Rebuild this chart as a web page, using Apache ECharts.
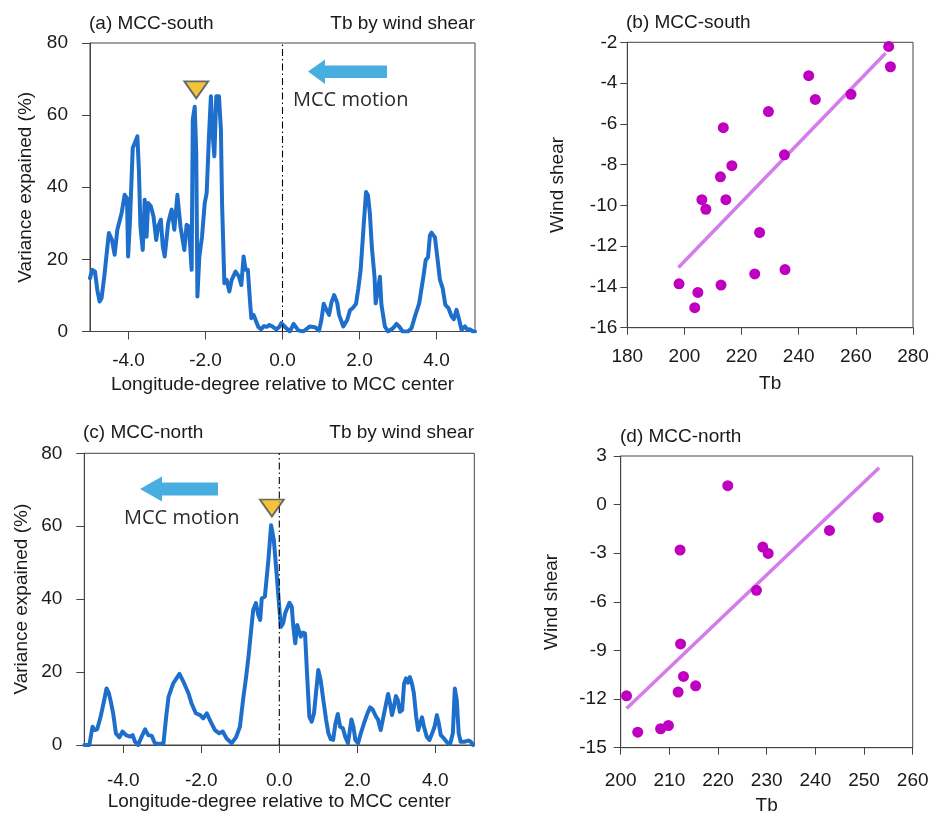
<!DOCTYPE html>
<html>
<head>
<meta charset="utf-8">
<title>Tb by wind shear</title>
<script src="https://cdn.jsdelivr.net/npm/echarts@6/dist/echarts.min.js"></script>
<style>
  html, body { margin: 0; padding: 0; background: #fff; }
  #chart { width: 931px; height: 814px; }
</style>
</head>
<body>
<div id="chart"></div>
<script>
// Variance explained along longitude, MCC-south
const southLon = [-5.00,-4.94,-4.87,-4.81,-4.75,-4.70,-4.63,-4.51,-4.43,-4.36,-4.29,-4.18,-4.10,-4.04,-4.01,-3.96,-3.89,-3.77,-3.73,-3.69,-3.63,-3.58,-3.53,-3.49,-3.42,-3.35,-3.28,-3.23,-3.16,-3.11,-3.06,-2.97,-2.88,-2.81,-2.73,-2.65,-2.55,-2.49,-2.43,-2.36,-2.33,-2.28,-2.24,-2.21,-2.16,-2.09,-2.02,-1.97,-1.91,-1.86,-1.81,-1.77,-1.72,-1.65,-1.60,-1.57,-1.51,-1.45,-1.38,-1.32,-1.22,-1.13,-1.07,-1.01,-0.96,-0.90,-0.84,-0.81,-0.75,-0.70,-0.63,-0.56,-0.48,-0.41,-0.34,-0.25,-0.16,-0.08,-0.03,0.00,0.10,0.19,0.29,0.41,0.54,0.71,0.84,0.95,1.01,1.07,1.14,1.21,1.27,1.34,1.42,1.47,1.58,1.68,1.75,1.84,1.91,1.97,2.03,2.10,2.17,2.22,2.27,2.32,2.39,2.42,2.48,2.53,2.57,2.66,2.74,2.87,2.96,3.03,3.12,3.26,3.35,3.44,3.55,3.66,3.72,3.78,3.83,3.87,3.96,4.02,4.09,4.16,4.23,4.31,4.39,4.45,4.52,4.59,4.65,4.74,4.80,4.87,4.95,5.00];
const southVar = [14.8,17.1,16.6,11.5,8.3,9.2,15.2,27.3,25.4,21.3,28.2,32.8,37.9,37.0,20.8,31.0,50.9,54.1,44.9,29.1,22.6,36.5,26.3,35.6,34.7,31.9,25.4,29.1,31.0,23.6,20.8,30.0,33.8,28.2,37.9,29.1,22.6,29.6,29.1,17.1,58.8,62.3,49.5,9.7,20.8,26.3,35.6,38.4,54.1,65.2,54.1,48.6,65.2,65.2,56.0,35.6,13.4,14.3,11.1,14.3,16.6,15.2,12.9,20.8,17.1,17.1,7.8,3.7,4.6,4.1,1.3,0.6,1.5,1.3,1.8,1.3,0.6,1.3,2.3,2.1,0.9,0.0,2.1,0.3,0.0,1.4,1.2,0.3,3.2,7.7,6.0,4.6,8.0,10.1,8.0,4.6,1.4,3.2,5.8,6.7,7.7,12.0,17.1,28.1,38.7,37.8,32.7,23.5,15.2,7.8,11.5,15.2,7.4,1.4,0.0,0.9,2.1,1.4,0.0,0.0,0.9,4.2,7.8,15.2,19.8,20.6,26.7,27.4,26.1,20.7,14.3,12.0,7.4,6.5,4.2,3.4,6.0,3.2,0.5,1.4,0.5,0.6,0.0,0.0];

// Variance explained along longitude, MCC-north
const northLon = [-5.00,-4.87,-4.79,-4.73,-4.67,-4.58,-4.49,-4.43,-4.37,-4.32,-4.26,-4.19,-4.10,-4.02,-3.93,-3.83,-3.76,-3.70,-3.62,-3.53,-3.44,-3.36,-3.27,-3.19,-3.08,-2.97,-2.90,-2.84,-2.72,-2.56,-2.46,-2.33,-2.25,-2.14,-2.03,-1.95,-1.86,-1.76,-1.65,-1.54,-1.45,-1.35,-1.22,-1.11,-1.01,-0.92,-0.85,-0.79,-0.73,-0.67,-0.60,-0.54,-0.49,-0.45,-0.37,-0.28,-0.21,-0.14,-0.07,0.04,0.10,0.15,0.26,0.32,0.36,0.41,0.46,0.51,0.55,0.60,0.66,0.72,0.77,0.83,0.89,0.94,1.00,1.06,1.13,1.20,1.26,1.32,1.38,1.44,1.50,1.56,1.63,1.69,1.76,1.85,1.90,1.95,2.02,2.09,2.17,2.26,2.33,2.39,2.48,2.53,2.60,2.67,2.74,2.79,2.84,2.89,2.94,2.99,3.04,3.09,3.15,3.20,3.25,3.30,3.35,3.40,3.45,3.51,3.56,3.61,3.66,3.71,3.78,3.85,3.92,3.98,4.04,4.09,4.14,4.22,4.31,4.38,4.45,4.50,4.55,4.60,4.65,4.74,4.85,4.91,4.97];
const northVar = [0.0,0.0,5.0,4.1,4.3,7.8,12.3,15.5,14.2,11.9,8.7,3.2,2.1,3.7,2.7,2.3,2.7,0.9,0.0,2.3,4.3,2.7,2.5,0.5,0.3,0.5,7.8,13.2,16.9,19.5,17.4,14.2,11.4,8.7,8.2,7.3,8.7,6.4,4.1,3.2,3.7,1.8,0.5,2.1,5.0,13.2,18.7,24.2,30.6,37.0,38.9,35.7,34.3,40.2,40.7,50.7,60.3,56.2,47.1,32.4,33.4,36.1,39.0,37.9,32.4,27.9,32.9,33.4,29.7,30.8,30.6,17.8,7.8,6.4,8.7,14.2,20.6,17.8,12.3,6.9,3.2,1.6,1.4,5.9,8.5,5.0,4.6,2.3,0.5,7.0,5.0,1.4,0.5,3.2,5.9,8.7,10.3,9.8,7.8,7.0,4.1,7.8,11.4,14.0,11.4,8.2,10.5,13.4,12.3,9.1,9.6,16.9,18.3,17.1,18.6,16.9,14.2,7.8,4.1,4.6,7.6,5.0,2.3,1.4,3.2,5.0,8.2,5.9,2.7,1.8,0.6,0.3,3.2,15.5,12.3,3.2,0.9,0.9,1.2,0.9,0.0];

// Peak markers (longitude, variance)
const southPeak = [-2.24, 67];
const northPeak = [-0.19, 65];

// Tb vs wind shear samples
const southTb    = [271.5,272.1,243.5,245.8,258.3,229.4,213.6,235.0,216.6,212.6,206.1,214.5,207.5,226.3,198.1,212.8,204.7,224.6,235.2,203.6];
const southShear = [-2.2,-3.2,-3.64,-4.8,-4.55,-5.4,-6.19,-7.52,-8.05,-8.6,-9.72,-9.72,-10.19,-11.33,-13.85,-13.91,-14.27,-13.36,-13.15,-15.02];
const northTb    = [222.0,212.2,229.2,230.3,242.9,252.9,227.9,212.3,212.9,215.4,211.8,201.2,203.5,208.2,209.8];
const northShear = [1.17,-2.8,-2.62,-3.01,-1.59,-0.79,-5.29,-8.6,-10.6,-11.18,-11.57,-11.8,-14.04,-13.83,-13.63];

// Fitted lines (end points)
const southFitTb = [197.9, 270.4];
const southFitShear = [-13.05, -2.54];
const northFitTb = [201.2, 253.1];
const northFitShear = [-12.58, 2.28];

// Tick labels
const lonTicks = [-4, -2, 0, 2, 4];

const FONT = '"Liberation Sans", Arial, Helvetica, sans-serif';
const INK = '#1a1a1a';
const AXIS = '#444';
const LINE_BLUE = '#1E6FCB';
const DOT = '#C000C0';
const FIT = '#D47CEA';
const ARROW = '#48AEE0';

const zip = (a, b) => a.map((v, i) => [v, b[i]]);

function baseAxis(extra) {
  return Object.assign({
    type: 'value',
    axisLine: { show: true, onZero: false, lineStyle: { color: AXIS, width: 1 } },
    axisTick: { show: true, inside: false, length: 8, lineStyle: { color: AXIS, width: 1 } },
    splitLine: { show: false },
    axisLabel: { color: INK, fontSize: 19, fontFamily: FONT },
    nameTextStyle: { color: INK, fontSize: 19, fontFamily: FONT },
    nameLocation: 'middle'
  }, extra);
}

function lonAxis(gridIndex, labelMargin, nameGap) {
  return baseAxis({
    gridIndex, min: -5, max: 5,
    axisTick: { show: true, length: 8, customValues: lonTicks, lineStyle: { color: AXIS, width: 1 } },
    axisLabel: { color: INK, fontSize: 19, fontFamily: FONT, margin: labelMargin,
                 customValues: lonTicks, formatter: v => v.toFixed(1) },
    name: 'Longitude-degree relative to MCC center', nameGap
  });
}

const gridStyle = { show: true, borderColor: AXIS, borderWidth: 1, backgroundColor: 'transparent', outerBoundsMode: 'none', containLabel: false };

const peakStyle = { color: '#F3B409', borderColor: '#3D4C5C', borderWidth: 1.8 };
const motionFont = { fill: '#2b2b2b', fontSize: 20, fontFamily: '"Open Sans", "Noto Sans", sans-serif' };

const option = {
  animation: false,
  backgroundColor: '#fff',
  textStyle: { fontFamily: FONT },
  title: [
    { text: '(a) MCC-south', left: 89, top: 14 },
    { text: 'Tb by wind shear', right: 456, top: 14 },
    { text: '(b) MCC-south', left: 626, top: 13 },
    { text: '(c) MCC-north', left: 83, top: 423 },
    { text: 'Tb by wind shear', right: 457, top: 423 },
    { text: '(d) MCC-north', left: 620, top: 427 }
  ].map(t => Object.assign({ padding: 0, textStyle: { color: INK, fontSize: 19, fontWeight: 'normal', fontFamily: FONT } }, t)),
  grid: [
    Object.assign({ left: 90, top: 43, width: 385, height: 288.5 }, gridStyle),
    Object.assign({ left: 627.3, top: 42.3, width: 285.7, height: 285.4 }, gridStyle),
    Object.assign({ left: 84.3, top: 453.3, width: 390, height: 291.7 }, gridStyle),
    Object.assign({ left: 620.7, top: 456, width: 292, height: 291.7 }, gridStyle)
  ],
  xAxis: [
    lonAxis(0, 20, 44),
    baseAxis({ gridIndex: 1, min: 180, max: 280, interval: 20,
      axisTick: { show: true, length: 7, lineStyle: { color: AXIS } },
      axisLabel: { color: INK, fontSize: 19, fontFamily: FONT, margin: 20 },
      name: 'Tb', nameGap: 47 }),
    lonAxis(2, 26, 47),
    baseAxis({ gridIndex: 3, min: 200, max: 260, interval: 10,
      axisTick: { show: true, length: 7, lineStyle: { color: AXIS } },
      axisLabel: { color: INK, fontSize: 19, fontFamily: FONT, margin: 24 },
      name: 'Tb', nameGap: 49 })
  ],
  yAxis: [
    baseAxis({ gridIndex: 0, min: 0, max: 80, interval: 20,
      axisLabel: { color: INK, fontSize: 19, fontFamily: FONT, margin: 22 },
      name: 'Variance expained (%)', nameGap: 55 }),
    baseAxis({ gridIndex: 1, min: -16, max: -2, interval: 2,
      axisTick: { show: true, length: 7, lineStyle: { color: AXIS } },
      axisLabel: { color: INK, fontSize: 19, fontFamily: FONT, margin: 10 },
      name: 'Wind shear', nameGap: 60 }),
    baseAxis({ gridIndex: 2, min: 0, max: 80, interval: 20,
      axisLabel: { color: INK, fontSize: 19, fontFamily: FONT, margin: 22 },
      name: 'Variance expained (%)', nameGap: 53 }),
    baseAxis({ gridIndex: 3, min: -15, max: 3, interval: 3,
      axisTick: { show: true, length: 7, lineStyle: { color: AXIS } },
      axisLabel: { color: INK, fontSize: 19, fontFamily: FONT, margin: 14 },
      name: 'Wind shear', nameGap: 59 })
  ],
  series: [
    { type: 'line', xAxisIndex: 0, yAxisIndex: 0, data: zip(southLon, southVar),
      showSymbol: false, symbol: 'none', lineStyle: { color: LINE_BLUE, width: 4, join: 'round', cap: 'round' }, z: 2 },
    { type: 'line', xAxisIndex: 0, yAxisIndex: 0, data: [[0, 0], [0, 80]], symbol: 'none',
      lineStyle: { color: '#000', width: 1.1, type: [7, 3, 1.5, 3] }, z: 3 },
    { type: 'scatter', xAxisIndex: 0, yAxisIndex: 0, data: [southPeak], symbol: 'triangle', symbolRotate: 180,
      symbolSize: [24, 17], itemStyle: peakStyle, z: 4 },

    { type: 'line', xAxisIndex: 1, yAxisIndex: 1, data: zip(southFitTb, southFitShear), symbol: 'none',
      lineStyle: { color: FIT, width: 3.5 }, z: 2 },
    { type: 'scatter', xAxisIndex: 1, yAxisIndex: 1, data: zip(southTb, southShear),
      symbolSize: 11, itemStyle: { color: DOT, opacity: 1 }, z: 3 },

    { type: 'line', xAxisIndex: 2, yAxisIndex: 2, data: zip(northLon, northVar),
      showSymbol: false, symbol: 'none', lineStyle: { color: LINE_BLUE, width: 4, join: 'round', cap: 'round' }, z: 2 },
    { type: 'line', xAxisIndex: 2, yAxisIndex: 2, data: [[0, 0], [0, 80]], symbol: 'none',
      lineStyle: { color: '#000', width: 1.1, type: [7, 3, 1.5, 3] }, z: 3 },
    { type: 'scatter', xAxisIndex: 2, yAxisIndex: 2, data: [northPeak], symbol: 'triangle', symbolRotate: 180,
      symbolSize: [24, 17], itemStyle: peakStyle, z: 4 },

    { type: 'line', xAxisIndex: 3, yAxisIndex: 3, data: zip(northFitTb, northFitShear), symbol: 'none',
      lineStyle: { color: FIT, width: 3.5 }, z: 2 },
    { type: 'scatter', xAxisIndex: 3, yAxisIndex: 3, data: zip(northTb, northShear),
      symbolSize: 11, itemStyle: { color: DOT, opacity: 1 }, z: 3 }
  ],
  graphic: [
    // motion arrows and captions
    { type: 'polygon', shape: { points: [[308, 71.5], [325, 59.5], [325, 65.5], [387, 65.5], [387, 78], [325, 78], [325, 84]] },
      style: { fill: ARROW } },
    { type: 'text', left: 293, top: 90, style: Object.assign({ text: 'MCC motion' }, motionFont) },
    { type: 'polygon', shape: { points: [[140, 489], [162, 476.5], [162, 482.5], [218, 482.5], [218, 495.5], [162, 495.5], [162, 501.5]] },
      style: { fill: ARROW } },
    { type: 'text', left: 124, top: 508, style: Object.assign({ text: 'MCC motion' }, motionFont) }
  ]
};

const chart = echarts.init(document.getElementById('chart'), null, { renderer: 'canvas' });
chart.setOption(option);
</script>
</body>
</html>
